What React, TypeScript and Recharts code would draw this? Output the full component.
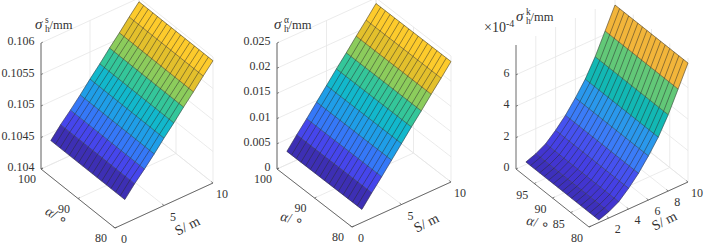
import React from "react";
import { ScatterChart, Scatter, XAxis, YAxis } from "recharts";

// surface grid
const meshS = [1, 2, 3, 4, 5, 6, 7, 8, 9, 10];
const meshAlpha = [80, 81.25, 82.5, 83.75, 85, 86.25, 87.5, 88.75, 90, 91.25, 92.5, 93.75, 95, 96.25, 97.5, 98.75, 100];

const sigmaS = [0.10438, 0.10456, 0.10472, 0.10489, 0.10507, 0.10524, 0.10542, 0.10559, 0.10577, 0.10594];
const sigmaAlpha = [0.0026, 0.005, 0.0073, 0.0097, 0.0121, 0.0145, 0.0168, 0.0192, 0.0215, 0.0239];
const sigmaK = [0.16, 0.4, 0.75, 1.32, 1.99, 2.81, 3.72, 4.86, 6.21, 7.58];

// axis ticks
const zTicksS = [0.104, 0.1045, 0.105, 0.1055, 0.106];
const zLabelsS = ["0.104", "0.1045", "0.105", "0.1055", "0.106"];
const zTicksAlpha = [0, 0.005, 0.01, 0.015, 0.02, 0.025];
const zLabelsAlpha = ["0", "0.005", "0.01", "0.015", "0.02", "0.025"];
const zTicksK = [0, 2, 4, 6];
const zLabelsK = ["0", "2", "4", "6"];
const sTicksWide = [0, 5, 10];
const sTicksK = [2, 4, 6, 8, 10];
const alphaTicksWide = [100, 90, 80];
const alphaTicksK = [95, 90, 85, 80];

// band colours, low S to high S
const bandsWide = ["#3d2fb4", "#4646ec", "#3578f8", "#1f9ee8", "#12b8cc", "#34c69a", "#8ccc5c", "#e3c02c", "#fdcb2c"];
const bandsK = ["#3d30bc", "#4235d0", "#4540e4", "#4652f0", "#3b7cf8", "#2a98ec", "#12b8b4", "#62c878", "#f2b53a"];

const GRID = "#e6e6e6";
const AXIS = "#5a5a5a";
const TEXT = "#333333";
const MESH = "#2a2a2a";
const FONT = "'Liberation Serif', serif";

type Pt = { px: number; py: number };
type Panel = {
  width: number;
  front: number[];
  right: number[];
  left: number[];
  zHeight: number;
  zRange: number[];
  values: number[];
  bands: string[];
  zTicks: number[];
  zLabels: string[];
  sTicks: number[];
  alphaTicks: number[];
  sLabelOffset: number[];
  alphaLabelOffset: number[];
  sTitle: number[];
  alphaTitle: number[];
  title: { x: number; y: number; sup: string };
  alphaTitleRotate: number;
  exponent: boolean;
};

const panels: Panel[] = [
  {
    width: 235,
    front: [115, 228],
    right: [213, 183],
    left: [41, 169],
    zHeight: 126,
    zRange: [0.104, 0.106],
    values: sigmaS,
    bands: bandsWide,
    zTicks: zTicksS,
    zLabels: zLabelsS,
    sTicks: sTicksWide,
    alphaTicks: alphaTicksWide,
    sLabelOffset: [9, 15],
    alphaLabelOffset: [-14, 14],
    sTitle: [188, 227],
    alphaTitle: [56, 217],
    title: { x: 35, y: 29, sup: "s" },
    alphaTitleRotate: 30,
    exponent: false,
  },
  {
    width: 235,
    front: [117, 227],
    right: [216, 182],
    left: [42, 169],
    zHeight: 126,
    zRange: [0, 0.025],
    values: sigmaAlpha,
    bands: bandsWide,
    zTicks: zTicksAlpha,
    zLabels: zLabelsAlpha,
    sTicks: sTicksWide,
    alphaTicks: alphaTicksWide,
    sLabelOffset: [9, 15],
    alphaLabelOffset: [-14, 14],
    sTitle: [192, 224],
    alphaTitle: [57, 220],
    title: { x: 39, y: 29, sup: "α" },
    alphaTitleRotate: 12,
    exponent: false,
  },
  {
    width: 236,
    front: [119, 227],
    right: [218, 182],
    left: [46, 169],
    zHeight: 124,
    zRange: [0, 7.9],
    values: sigmaK,
    bands: bandsK,
    zTicks: zTicksK,
    zLabels: zLabelsK,
    sTicks: sTicksK,
    alphaTicks: alphaTicksK,
    sLabelOffset: [9, 15],
    alphaLabelOffset: [-12, 15],
    sTitle: [195, 222],
    alphaTitle: [68, 224],
    title: { x: 46, y: 21, sup: "k" },
    alphaTitleRotate: 12,
    exponent: true,
  },
];

const project = (p: Panel, s: number, alpha: number, z: number): Pt => {
  const sf = s / 10;
  const af = (alpha - 80) / 20;
  const zf = (z - p.zRange[0]) / (p.zRange[1] - p.zRange[0]);
  return {
    px: p.front[0] + sf * (p.right[0] - p.front[0]) + af * (p.left[0] - p.front[0]),
    py: p.front[1] + sf * (p.right[1] - p.front[1]) + af * (p.left[1] - p.front[1]) - zf * p.zHeight,
  };
};

const noMark = () => <g />;

const path = (key: string, data: Pt[], stroke: string, strokeWidth: number) => (
  <Scatter
    key={key}
    data={data}
    dataKey="py"
    isAnimationActive={false}
    shape={noMark}
    line={(lp: any) => (
      <polyline
        points={lp.points.map((q: any) => `${q.x},${q.y}`).join(" ")}
        fill="none"
        stroke={stroke}
        strokeWidth={strokeWidth}
      />
    )}
  />
);

const face = (key: string, data: Pt[], fill: string) => (
  <Scatter
    key={key}
    data={data}
    dataKey="py"
    isAnimationActive={false}
    shape={noMark}
    line={(lp: any) => (
      <polygon
        points={lp.points.map((q: any) => `${q.x},${q.y}`).join(" ")}
        fill={fill}
        stroke={fill}
        strokeWidth={0.3}
      />
    )}
  />
);

const labels = (key: string, data: (Pt & { label: string; anchor: string })[]) => (
  <Scatter
    key={key}
    data={data}
    dataKey="py"
    isAnimationActive={false}
    shape={(sp: any) => (
      <text
        x={sp.cx}
        y={sp.cy}
        textAnchor={sp.payload.anchor}
        fontFamily={FONT}
        fontSize={12}
        fill={TEXT}
      >
        {sp.payload.label}
      </text>
    )}
  />
);

const Surface3D = ({ p }: { p: Panel }) => {
  const zTop = p.zRange[1];
  const zLow = p.zRange[0];
  const series: React.ReactNode[] = [];

  // back walls and floor
  p.zTicks.forEach((z, i) => {
    series.push(path(`wall-a-${i}`, [project(p, 0, 100, z), project(p, 10, 100, z), project(p, 10, 80, z)], GRID, 0.8));
  });
  p.sTicks.forEach((s, i) => {
    series.push(path(`wall-s-${i}`, [project(p, s, 80, zLow), project(p, s, 100, zLow), project(p, s, 100, zTop)], GRID, 0.8));
  });
  p.alphaTicks.forEach((a, i) => {
    series.push(path(`wall-k-${i}`, [project(p, 0, a, zLow), project(p, 10, a, zLow), project(p, 10, a, zTop)], GRID, 0.8));
  });

  // axes with their small ticks
  series.push(path("axis-z", [project(p, 0, 100, zLow), project(p, 0, 100, zTop)], AXIS, 0.9));
  series.push(path("axis-a", [project(p, 0, 100, zLow), project(p, 0, 80, zLow)], AXIS, 0.9));
  series.push(path("axis-s", [project(p, 0, 80, zLow), project(p, 10, 80, zLow)], AXIS, 0.9));
  p.zTicks.forEach((z, i) => {
    series.push(path(`tick-z-${i}`, [project(p, 0, 100, z), project(p, 0.2, 100, z)], AXIS, 0.7));
  });
  p.sTicks.forEach((s, i) => {
    series.push(path(`tick-s-${i}`, [project(p, s, 80, zLow), project(p, s, 80.5, zLow)], AXIS, 0.7));
  });
  p.alphaTicks.forEach((a, i) => {
    series.push(path(`tick-a-${i}`, [project(p, 0, a, zLow), project(p, 0.2, a, zLow)], AXIS, 0.7));
  });

  // surface bands, then the mesh on top
  p.bands.forEach((fill, i) => {
    series.push(
      face(`band-${i}`, [
        project(p, meshS[i], 80, p.values[i]),
        project(p, meshS[i + 1], 80, p.values[i + 1]),
        project(p, meshS[i + 1], 100, p.values[i + 1]),
        project(p, meshS[i], 100, p.values[i]),
      ], fill),
    );
  });
  meshAlpha.forEach((a) => {
    series.push(path(`mesh-a-${a}`, meshS.map((s, i) => project(p, s, a, p.values[i])), MESH, 0.5));
  });
  meshS.forEach((s, i) => {
    series.push(path(`mesh-s-${s}`, [project(p, s, 80, p.values[i]), project(p, s, 100, p.values[i])], MESH, 0.5));
  });

  // tick labels
  series.push(
    labels("z-labels", p.zTicks.map((z, i) => {
      const q = project(p, 0, 100, z);
      return { px: q.px - 6.5, py: q.py + 2, label: p.zLabels[i], anchor: "end" };
    })),
  );
  series.push(
    labels("s-labels", p.sTicks.map((s) => {
      const q = project(p, s, 80, zLow);
      return { px: q.px + p.sLabelOffset[0], py: q.py + p.sLabelOffset[1], label: String(s), anchor: "middle" };
    })),
  );
  series.push(
    labels("a-labels", p.alphaTicks.map((a) => {
      const q = project(p, 0, a, zLow);
      return { px: q.px + p.alphaLabelOffset[0], py: q.py + p.alphaLabelOffset[1], label: String(a), anchor: "middle" };
    })),
  );

  return (
    <div style={{ position: "relative", width: p.width, height: 245, flex: "none" }}>
      <ScatterChart width={p.width} height={245} margin={{ top: 0, right: 0, bottom: 0, left: 0 }}>
        <XAxis type="number" dataKey="px" domain={[0, p.width]} hide allowDataOverflow />
        <YAxis type="number" dataKey="py" domain={[0, 245]} reversed hide allowDataOverflow />
        {series}
      </ScatterChart>
      <svg
        width={p.width}
        height={245}
        style={{ position: "absolute", left: 0, top: 0, pointerEvents: "none" }}
        fontFamily={FONT}
        fill={TEXT}
      >
        <text x={p.title.x} y={p.title.y} fontSize={15} fontStyle="italic">σ</text>
        <text x={p.title.x + 10} y={p.title.y - 6} fontSize={9.5}>{p.title.sup}</text>
        <text x={p.title.x + 10} y={p.title.y + 3} fontSize={9.5}>h</text>
        <text x={p.title.x + 14.5} y={p.title.y} fontSize={12.5}>/mm</text>
        <text
          x={p.sTitle[0]}
          y={p.sTitle[1]}
          fontSize={14}
          textAnchor="middle"
          dominantBaseline="middle"
          transform={`rotate(-27 ${p.sTitle[0]} ${p.sTitle[1]})`}
        >
          S/ m
        </text>
        <text
          x={p.alphaTitle[0]}
          y={p.alphaTitle[1]}
          fontSize={14}
          textAnchor="middle"
          dominantBaseline="middle"
          transform={`rotate(${p.alphaTitleRotate} ${p.alphaTitle[0]} ${p.alphaTitle[1]})`}
        >
          <tspan fontStyle="italic">α</tspan>/ ∘
        </text>
        {p.exponent ? (
          <text x={14} y={32} fontSize={14}>
            ×10<tspan dy={-5} fontSize={10}>-4</tspan>
          </text>
        ) : null}
      </svg>
    </div>
  );
};

export default function App() {
  return (
    <div style={{ position: "absolute", left: 0, top: 0, width: 706, height: 245, display: "flex", background: "#fff" }}>
      {panels.map((p, i) => (
        <Surface3D key={i} p={p} />
      ))}
    </div>
  );
}
